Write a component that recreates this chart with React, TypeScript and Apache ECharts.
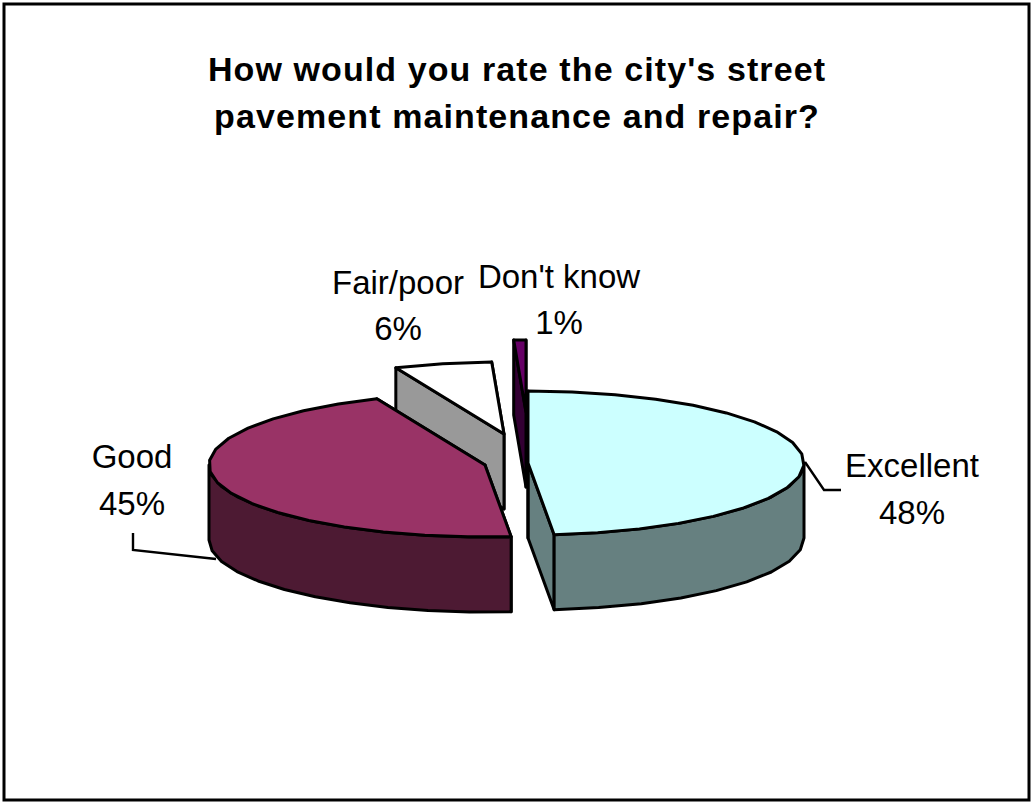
import React, { useEffect, useRef } from "react";
import * as echarts from "echarts";

const titleLines = ["How would you rate the city's street", "pavement maintenance and repair?"];
const categories = ["Excellent", "Good", "Fair/poor", "Don't know"];
const values = [48.49, 45.1, 5.7, 0.71];

const topColors = ["#CCFFFF", "#993366", "#FFFFFF", "#660066"];
const sideColors = ["#668080", "#4D1A33", "#999999", "#330033"];
const centerX = [528, 485, 504, 526];
const centerY = [463, 465, 434, 412];
const labelX = [912, 132, 398, 559];
const labelY = [465, 456, 282, 276];
const labelGap = [47, 47, 46, 46];
const paintOrder = [3, 2, 1, 0];
const leaderLines: number[][][] = [
  [[805, 462], [824, 490], [841, 490]],
  [[133, 533], [133, 550], [216, 559]],
  [],
  [],
];

const RX = 276;
const RY = 72;
const DEPTH = 75;
const STEP = 9;
const INK = "#000000";
const FONT = '"Liberation Sans", Arial, sans-serif';

const total = values.reduce((a, b) => a + b, 0);
const startAngles: number[] = [];
const endAngles: number[] = [];
values.reduce((acc, v, i) => {
  startAngles[i] = (acc / total) * 360;
  endAngles[i] = ((acc + v) / total) * 360;
  return acc + v;
}, 0);

function rim(cx: number, cy: number, deg: number): number[] {
  const t = (deg * Math.PI) / 180;
  return [cx + RX * Math.sin(t), cy - RY * Math.cos(t)];
}

function arcPoints(cx: number, cy: number, a: number, b: number): number[][] {
  const pts: number[][] = [];
  const n = Math.max(1, Math.round((b - a) / STEP));
  for (let k = 0; k <= n; k++) pts.push(rim(cx, cy, a + ((b - a) * k) / n));
  return pts;
}

function renderSlice(params: any, api: any) {
  const i = api.value(0) as number;
  const cx = centerX[i];
  const cy = centerY[i];
  const a = startAngles[i];
  const b = endAngles[i];
  const children: any[] = [];
  const shapeStyle = (fill: string) => ({
    fill,
    stroke: INK,
    lineWidth: 3,
    lineJoin: "round",
  });
  const down = (p: number[]) => [p[0], p[1] + DEPTH];
  const wall = (deg: number) => {
    const o = rim(cx, cy, deg);
    const c = [cx, cy];
    children.push({
      type: "polygon",
      shape: { points: [c, o, down(o), down(c)] },
      style: shapeStyle(sideColors[i]),
    });
  };
  wall(b);
  wall(a);
  const fa = Math.max(a, 90);
  const fb = Math.min(b, 270);
  if (fb > fa) {
    const arc = arcPoints(cx, cy, fa, fb);
    children.push({
      type: "polygon",
      shape: { points: [...arc, ...arc.map(down).reverse()] },
      style: shapeStyle(sideColors[i]),
    });
  }
  children.push({
    type: "polygon",
    shape: { points: [[cx, cy], ...arcPoints(cx, cy, a, b)] },
    style: shapeStyle(topColors[i]),
  });
  if (leaderLines[i].length) {
    children.push({
      type: "polyline",
      shape: { points: leaderLines[i] },
      style: { fill: "none", stroke: INK, lineWidth: 2.4 },
    });
  }
  const lines = [categories[i], Math.round(values[i]) + "%"];
  lines.forEach((t, k) => {
    children.push({
      type: "text",
      x: labelX[i],
      y: labelY[i] + k * labelGap[i],
      style: {
        text: t,
        fill: INK,
        fontSize: 33,
        fontFamily: FONT,
        align: "center",
        verticalAlign: "middle",
        textAlign: "center",
        textVerticalAlign: "middle",
      },
    });
  });
  return { type: "group", children };
}

export default function App() {
  const ref = useRef<HTMLDivElement>(null);
  useEffect(() => {
    const chart = echarts.init(ref.current!, undefined, { renderer: "svg", width: 1033, height: 809 });
    chart.setOption({
      animation: false,
      backgroundColor: "#FFFFFF",
      title: {
        text: titleLines.join("\n"),
        left: 512,
        top: 40,
        textAlign: "center",
        textStyle: { fontFamily: FONT, fontWeight: "bold", fontSize: 34, lineHeight: 47, color: INK },
      },
      graphic: [
        {
          type: "rect",
          shape: { x: 4, y: 4, width: 1025, height: 796 },
          style: { fill: "none", stroke: INK, lineWidth: 3 },
        },
      ],
      series: [
        {
          type: "custom",
          coordinateSystem: "none",
          renderItem: renderSlice,
          data: paintOrder.map((i) => ({ name: categories[i], value: [i, values[i]] })),
          silent: true,
        },
      ],
    });
    ref.current!.querySelectorAll("text").forEach((el) => {
      if (titleLines.includes((el.textContent || "").trim())) {
        (el as SVGTextElement).style.letterSpacing = "1.1px";
      }
    });
    return () => chart.dispose();
  }, []);
  return <div ref={ref} style={{ position: "absolute", left: 0, top: 0, width: 1033, height: 809 }} />;
}
